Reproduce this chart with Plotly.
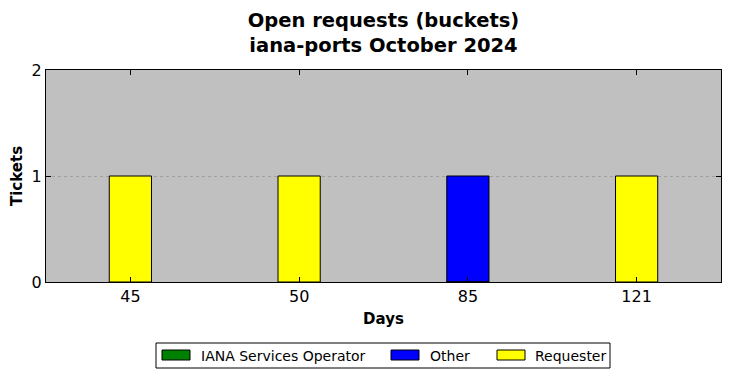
import plotly.graph_objects as go

categories = ["45", "50", "85", "121"]
series_names = ["IANA Services Operator", "Other", "Requester"]
series_colors = ["#008000", "#0000ff", "#ffff00"]
iana_values = [0, 0, 0, 0]
other_values = [0, 0, 1, 0]
requester_values = [1, 1, 0, 1]
y_ticks = [0, 1, 2]

W, H = 730, 378
L, R, T, B = 46, 9, 70, 96
pw, ph = W - L - R, H - T - B

def px2x(p):
    return (p - L) / pw

def px2y(p):
    return (H - B - p) / ph

fig = go.Figure()
for name, color, vals in zip(series_names, series_colors,
                             [iana_values, other_values, requester_values]):
    fig.add_trace(go.Bar(
        x=categories, y=vals, name=name, width=0.25,
        marker=dict(color=color, line=dict(color="black", width=1)),
        showlegend=False,
    ))

font = "DejaVu Sans"
fig.update_layout(
    width=W, height=H,
    margin=dict(l=L, r=R, t=T, b=B),
    paper_bgcolor="white",
    plot_bgcolor="#c0c0c0",
    barmode="overlay",
    font=dict(family=font, color="black"),
    title=dict(
        text="<b>Open requests (buckets)<br>iana-ports October 2024</b>",
        xref="paper", x=0.5, xanchor="center", y=1 - 27 / H, yanchor="middle",
        font=dict(size=19.5, family=font),
    ),
)
fig.update_xaxes(
    type="category", range=[-0.5, 3.5],
    showline=True, linecolor="black", linewidth=1, mirror="allticks",
    ticks="inside", ticklen=5, tickcolor="black",
    tickfont=dict(size=16), showgrid=False,
    title=dict(text="<b>Days</b>", font=dict(size=15), standoff=8),
)
fig.update_yaxes(
    range=[0, 2], tickvals=y_ticks,
    showline=True, linecolor="black", linewidth=1, mirror="allticks",
    ticks="inside", ticklen=5, tickcolor="black",
    tickfont=dict(size=16), showgrid=True, gridcolor="#a0a0a0",
    griddash="dot", gridwidth=1, zeroline=False,
    title=dict(text="<b>Tickets</b>", font=dict(size=15), standoff=5),
)

# manual legend (matplotlib style)
shapes = [dict(type="rect", xref="paper", yref="paper",
               x0=px2x(156), x1=px2x(610), y0=px2y(368), y1=px2y(343),
               line=dict(color="black", width=1), fillcolor="white", layer="above")]
patch_x = [162, 391, 497]
text_x = [199, 428, 533]
annotations = []
for name, color, pxl, tx in zip(series_names, series_colors, patch_x, text_x):
    shapes.append(dict(type="rect", xref="paper", yref="paper",
                       x0=px2x(pxl), x1=px2x(pxl + 28), y0=px2y(360), y1=px2y(350),
                       line=dict(color="black", width=1), fillcolor=color, layer="above"))
    annotations.append(dict(xref="paper", yref="paper", x=px2x(tx), y=px2y(355.5),
                            xanchor="left", yanchor="middle", showarrow=False,
                            text=name, font=dict(size=14, family=font)))
fig.update_layout(shapes=shapes, annotations=annotations)

fig.write_html("out.html", config={"displayModeBar": False},
               post_script="document.body.style.margin='0px';")
